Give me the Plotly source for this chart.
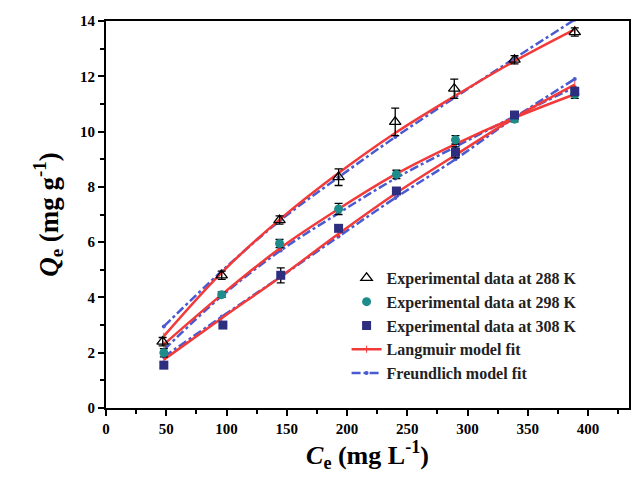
import plotly.graph_objects as go

# Experimental data
ce_288 = [47, 96, 144, 193, 240, 289, 339, 389]
qe_288 = [2.4, 4.8, 6.8, 8.35, 10.35, 11.55, 12.6, 13.6]
err_288 = [0.15, 0.15, 0.15, 0.3, 0.5, 0.35, 0.15, 0.15]

ce_298 = [48, 96, 144, 193, 241, 290, 339, 389]
qe_298 = [2.0, 4.1, 5.95, 7.2, 8.45, 9.7, 10.45, 11.35]
err_298 = [0.15, 0.1, 0.15, 0.2, 0.15, 0.15, 0.1, 0.15]

ce_308 = [48, 97, 145, 193, 241, 290, 339, 389]
qe_308 = [1.55, 3.0, 4.8, 6.5, 7.85, 9.25, 10.6, 11.45]
err_308 = [0.1, 0.0, 0.27, 0.1, 0.1, 0.2, 0.1, 0.15]

# Fit curves
fit_x = [48, 96, 145, 193, 240, 290, 339, 389]
lang_288 = [2.6, 4.9, 6.85, 8.5, 9.95, 11.3, 12.55, 13.7]
freu_288 = [2.95, 4.95, 6.8, 8.35, 9.8, 11.25, 12.65, 14.05]
lang_298 = [2.3, 4.1, 5.8, 7.2, 8.45, 9.55, 10.5, 11.35]
freu_298 = [2.1, 4.05, 5.7, 7.05, 8.3, 9.45, 10.55, 11.6]
lang_308 = [1.75, 3.25, 4.75, 6.3, 7.75, 9.15, 10.5, 11.7]
freu_308 = [1.85, 3.3, 4.75, 6.2, 7.6, 9.0, 10.5, 11.9]

RED = "#f23a3a"
BLUE = "#4a5ad0"
FONT = "Liberation Serif"

fig = go.Figure()

for i, (yl, yf) in enumerate([(lang_288, freu_288), (lang_298, freu_298), (lang_308, freu_308)]):
    fig.add_trace(go.Scatter(x=fit_x, y=yf, mode="lines+markers", line=dict(color=BLUE, width=2.5, dash="dashdot", shape="spline"),
                             marker=dict(size=4, color=BLUE),
                             name="Freundlich model fit", showlegend=False, legendrank=5))
    fig.add_trace(go.Scatter(x=fit_x, y=yl, mode="lines+markers", line=dict(color=RED, width=2.5, shape="spline"),
                             marker=dict(size=5, color=RED, symbol="line-ns", line=dict(color=RED, width=1)),
                             name="Langmuir model fit", showlegend=False, legendrank=4))

fig.add_trace(go.Scatter(x=ce_288, y=qe_288, mode="markers", name="Experimental data at 288 K",
                         marker=dict(symbol="triangle-up-open", size=10, color="black", line=dict(width=1.3)),
                         error_y=dict(type="data", array=err_288, color="black", thickness=1.3, width=4),
                         legendrank=1))
fig.add_trace(go.Scatter(x=ce_298, y=qe_298, mode="markers", name="Experimental data at 298 K",
                         marker=dict(symbol="circle", size=9, color="#1e8c8a"),
                         error_y=dict(type="data", array=err_298, color="black", thickness=1.3, width=4),
                         legendrank=2))
fig.add_trace(go.Scatter(x=ce_308, y=qe_308, mode="markers", name="Experimental data at 308 K",
                         marker=dict(symbol="square", size=9, color="#2e2e80"),
                         error_y=dict(type="data", array=err_308, color="black", thickness=1.3, width=4),
                         legendrank=3))

# legend-only entries for fits
fig.add_trace(go.Scatter(x=[None], y=[None], mode="lines+markers", name="Langmuir model fit",
                         line=dict(color=RED, width=2.5),
                         marker=dict(size=5, color=RED, symbol="line-ns", line=dict(color=RED, width=1)),
                         legendrank=4))
fig.add_trace(go.Scatter(x=[None], y=[None], mode="lines+markers", name="Freundlich model fit",
                         line=dict(color=BLUE, width=2.5, dash="dashdot"),
                         marker=dict(size=4, color=BLUE),
                         legendrank=5))

axis_common = dict(showline=True, linecolor="black", linewidth=2, mirror=True, ticks="outside",
                   ticklen=6, tickwidth=2, tickcolor="black", showgrid=False, zeroline=False,
                   tickfont=dict(family=FONT, size=15, color="black", weight="bold"))

fig.update_xaxes(range=[0, 434], dtick=50, tick0=0,
                 minor=dict(ticks="outside", dtick=25, ticklen=4, tickwidth=2, tickcolor="black"),
                 title=dict(text="<i>C</i><sub>e</sub> (mg L<sup>-1</sup>)",
                            font=dict(family=FONT, size=26, color="black", weight="bold"), standoff=4),
                 **axis_common)
fig.update_yaxes(range=[0, 14], dtick=2, tick0=0,
                 minor=dict(ticks="outside", dtick=1, ticklen=4, tickwidth=2, tickcolor="black"),
                 title=dict(text="<i>Q</i><sub>e</sub> (mg g<sup>-1</sup>)",
                            font=dict(family=FONT, size=27, color="black", weight="bold"), standoff=14),
                 **axis_common)

fig.update_layout(
    width=633, height=492,
    margin=dict(l=106, r=2, t=21, b=84),
    plot_bgcolor="white", paper_bgcolor="white",
    legend=dict(x=0.46, y=0.38, xanchor="left", yanchor="top", bgcolor="rgba(0,0,0,0)",
                font=dict(family=FONT, size=16, color="#222", weight="bold"),
                tracegroupgap=0, itemwidth=30),
)

fig.write_html("out.html")
